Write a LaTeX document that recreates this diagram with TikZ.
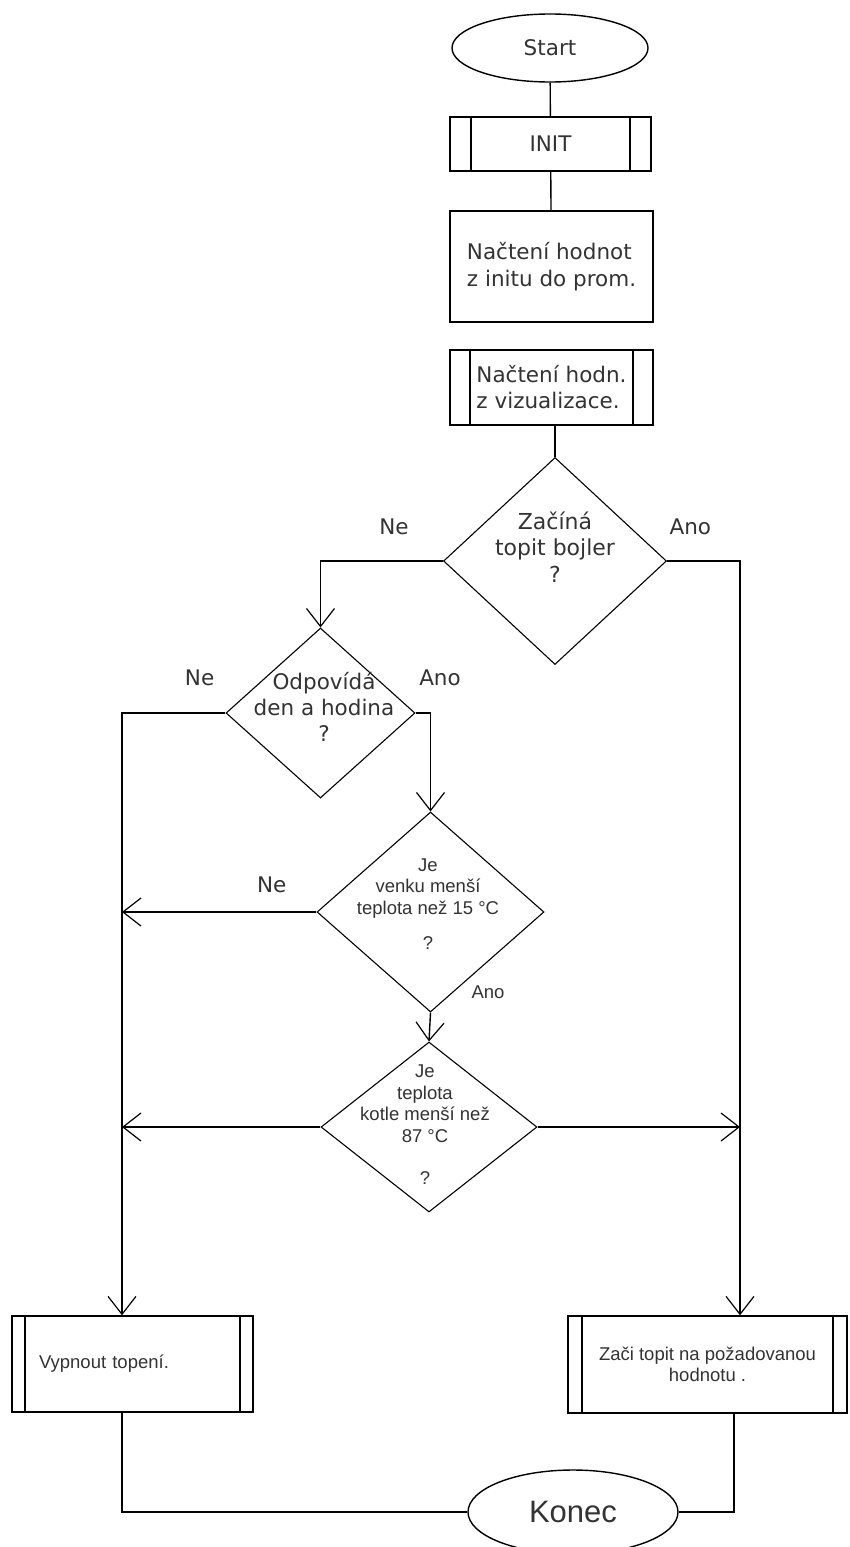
\documentclass[tikz,border=0pt]{standalone}
\usepackage{fontspec}
\setmainfont{DejaVu Sans}
\newfontfamily\narrowfont{Liberation Sans}
\usetikzlibrary{arrows.meta, shapes.geometric}

\begin{document}
\begin{tikzpicture}[x=1pt, y=-1pt, line width=1.4pt,
    font=\fontsize{21.5}{26}\selectfont, text=black!80,
    term/.style={draw, ellipse, inner sep=0pt},
    box/.style={draw, rectangle, inner sep=0pt, align=left},
    sub/.style={draw, rectangle, inner sep=0pt, align=center,
      path picture={
        \draw[line width=1.4pt] ([xshift=#1]path picture bounding box.north west) -- ([xshift=#1]path picture bounding box.south west);
        \draw[line width=1.4pt] ([xshift=-#1]path picture bounding box.north east) -- ([xshift=-#1]path picture bounding box.south east);}},
    sub/.default=20pt,
    dec/.style={draw, diamond, inner sep=0pt, line width=1.1pt},
    qtext/.style={align=center, inner sep=0pt},
    narrow/.style={font=\narrowfont\fontsize{18.5}{21.5}\selectfont},
    lbl/.style={inner sep=0pt},
    >={Straight Barb[length=18pt, width=28pt, line width=1.2pt]}]
  \path[use as bounding box, fill=white] (0,0) rectangle (849,1547);
  \coordinate (lbus) at (122,0);
  \coordinate (rbus) at (740,0);

  % hlavni vetev
  \node[term, minimum width=196pt, minimum height=68pt] (start) at (550,48) {Start};
  \node[sub=21pt, minimum width=201pt, minimum height=54pt] (init) at (550.5,144) {INIT};
  \node[box, minimum width=203pt, minimum height=111pt, font=\fontsize{21.5}{27}\selectfont] (nacteni) at (551.5,266.5) {Načtení hodnot\\z initu do prom.};
  \node[sub=20pt, minimum width=203pt, minimum height=75pt, align=left] (vizual) at (551.5,387.5) {Načtení hodn.\\z vizualizace.};

  % rozhodovani
  \node[dec, minimum width=223pt, minimum height=207pt] (bojler) at (555,561) {};
  \node[qtext, font=\fontsize{22}{26.5}\selectfont] (bojlerq) at (555,547) {Začíná\\topit bojler\\?};
  \node[dec, minimum width=189pt, minimum height=170pt] (den) at (320.5,713) {};
  \node[qtext] (denq) at (324,707) {Odpovídá\\den a hodina\\?};
  \node[dec, minimum width=227pt, minimum height=200pt] (venku) at (430.5,912) {};
  \node[qtext, narrow] (venkuq) at (428,904) {Je\\venku menší\\teplota než 15 °C\\[14pt]?};
  \node[dec, minimum width=216pt, minimum height=170pt] (kotel) at (429,1127) {};
  \node[qtext, narrow] (kotelq) at (425,1125) {Je\\teplota\\kotle menší než\\87 °C\\[21pt]?};

  % konec
  \node[sub=13pt, narrow, minimum width=241pt, minimum height=96pt, text width=187pt, align=left] (vyp) at (132.5,1364) {Vypnout topení.};
  \node[sub=14pt, narrow, minimum width=279pt, minimum height=97pt] (zaci) at (707.5,1364.5) {Zači topit na požadovanou\\hodnotu .};
  \node[term, minimum width=210pt, minimum height=84pt, font=\narrowfont\fontsize{31}{36}\selectfont] (konec) at (573,1512) {Konec};

  \draw (start) -- (init);
  \draw (init) -- (nacteni);
  \draw (bojler.north |- vizual.south) -- (bojler.north);
  \draw[->] (bojler.west) -| node[lbl, pos=0.2, yshift=34pt] (ne1) {Ne} (den.north);
  \draw[->] (bojler.east) -| node[lbl, pos=0.16, yshift=34pt] (ano1) {Ano} (zaci.north -| rbus);
  \draw[->] (den.west) -| node[lbl, pos=0.125, yshift=35pt] (ne2) {Ne} (vyp.north -| lbus);
  \draw[->] (den.east) -| node[lbl, pos=0.5, xshift=9.5pt, yshift=35pt] (ano2) {Ano} (venku.north);
  \draw[->] (venku.west) -- node[lbl, pos=0.23, yshift=27pt] (ne3) {Ne} (venku.west -| lbus);
  \draw[->] (venku.south) -- node[lbl, narrow, pos=0, xshift=57.5pt, yshift=20pt] (ano3) {Ano} (kotel.north);
  \draw[->] (kotel.west) -- (kotel.west -| lbus);
  \draw[->] (kotel.east) -- (kotel.east -| rbus);
  \draw (vyp.south -| lbus) |- (konec.west);
  \draw ([xshift=26.5pt]zaci.south) |- (konec.east);
\end{tikzpicture}
\end{document}
